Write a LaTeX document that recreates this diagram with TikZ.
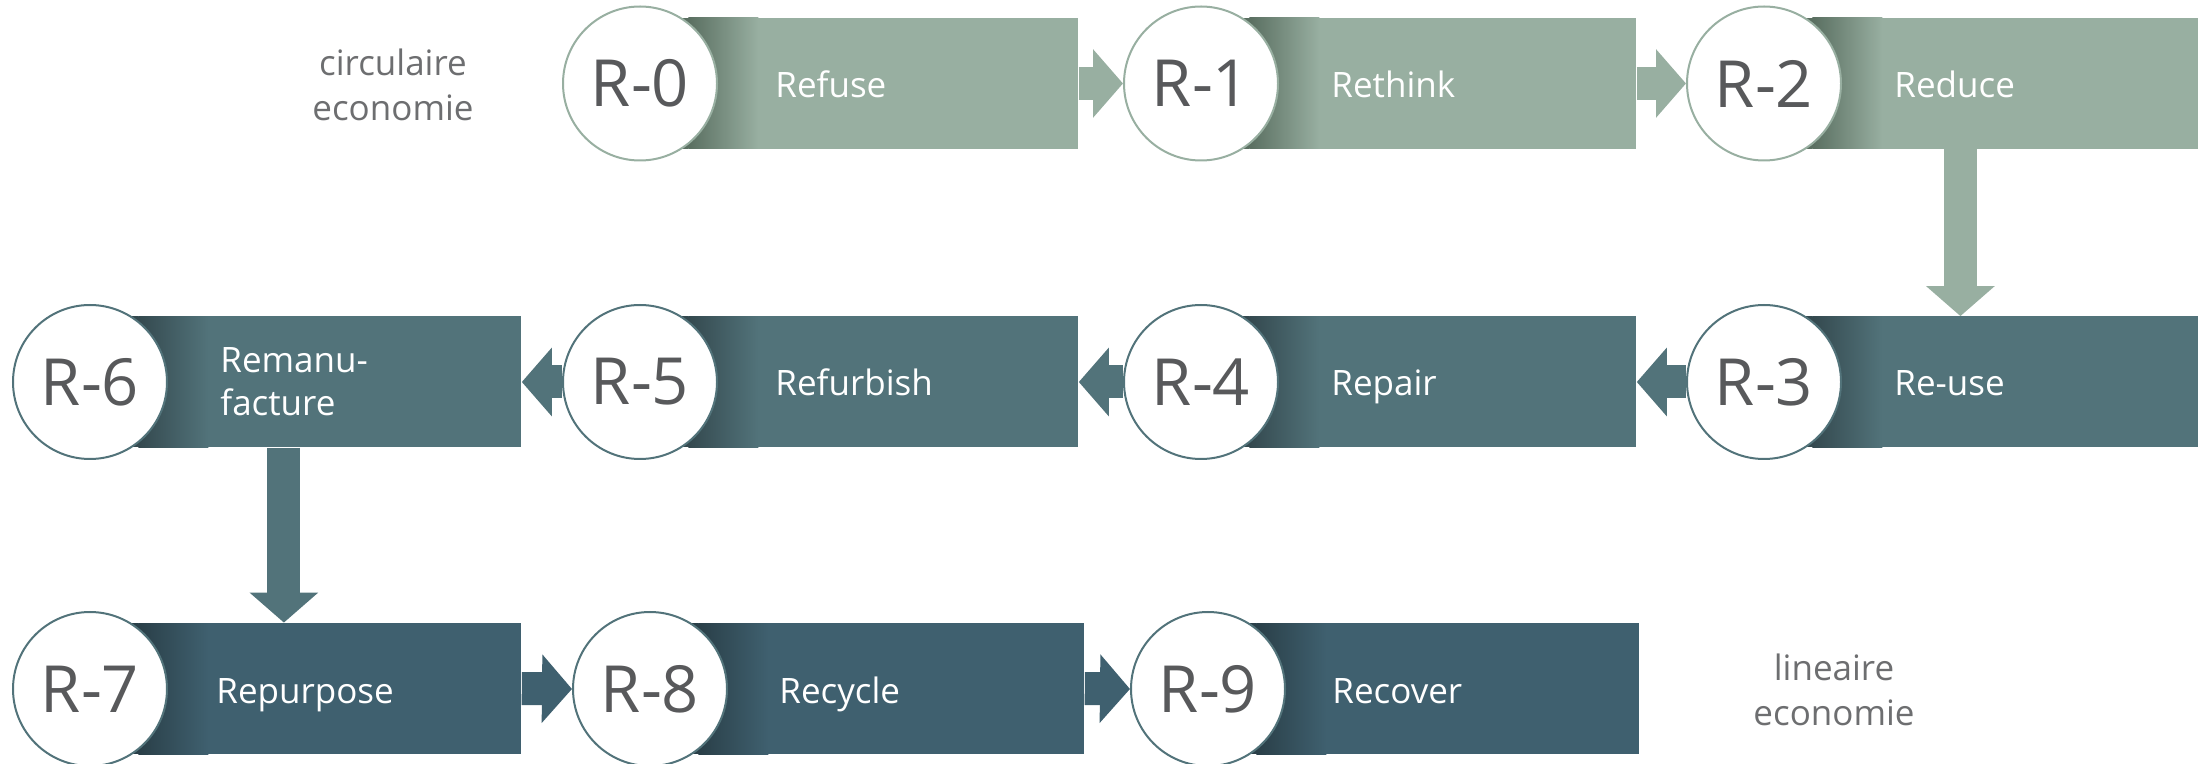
\documentclass[tikz,border=0pt]{standalone}
\usepackage{fontspec}
\setmainfont{Open Sans}
\usepackage{xcolor}
\usepackage{tikz}
\definecolor{sage}{HTML}{98AFA1}
\definecolor{sagedark}{HTML}{5A6F61}
\definecolor{slate}{HTML}{52737A}
\definecolor{slatedark}{HTML}{34494F}
\definecolor{deep}{HTML}{3F606F}
\definecolor{deepdark}{HTML}{2A3F48}
\definecolor{rtext}{HTML}{58595B}
\definecolor{sidetext}{HTML}{6D6E70}
\tikzset{>=latex,
    rbox/.style={fill=#1, anchor=west, inner sep=0pt, minimum height=65.5pt,
        path picture={
            \fill[#1dark] (path picture bounding box.south west) rectangle ([xshift=24pt]path picture bounding box.north west);
            \shade[left color=#1dark, right color=#1] ([xshift=24pt]path picture bounding box.south west) rectangle ([xshift=59pt]path picture bounding box.north west);}},
    rcircle/.style={circle, draw=#1, line width=1pt, fill=white, minimum size=77pt, inner sep=0pt,
        text=rtext, font=\fontsize{32.5}{33}\selectfont},
    rlabel/.style={anchor=base west, inner sep=0pt, text=white, align=left, font=\fontsize{17.5}{21.5}\selectfont},
    rarrow/.style={draw=#1, line width=16.5pt, -{Triangle[length=15pt, width=33.5pt]}},
    side/.style={text=sidetext, align=center, font=\fontsize{17.5}{22.5}\selectfont}}
\usetikzlibrary{arrows.meta}

\begin{document}
\begin{tikzpicture}[x=0.5pt, y=-0.5pt]
    \useasboundingbox (0,0) rectangle (2202,764);
    % boxes
    \node[rbox=sage, minimum width=219pt] (b0) at (640,83.5) {};
    \node[rbox=sage, minimum width=217.5pt] (b1) at (1201,83.5) {};
    \node[rbox=sage, minimum width=217pt] (b2) at (1764,83.5) {};
    \node[rbox=slate, minimum width=217pt] (b3) at (1764,382) {};
    \node[rbox=slate, minimum width=217.5pt] (b4) at (1201,382) {};
    \node[rbox=slate, minimum width=219pt] (b5) at (640,382) {};
    \node[rbox=slate, minimum width=215.5pt] (b6) at (90,382) {};
    \node[rbox=deep, minimum width=215.5pt] (b7) at (90,688.5) {};
    \node[rbox=deep, minimum width=217pt] (b8) at (650,688.5) {};
    \node[rbox=deep, minimum width=215.5pt] (b9) at (1208,688.5) {};
    % circles
    \node[rcircle=sage] (c0) at (640,83.5) {R-0};
    \node[rcircle=sage] (c1) at (1201,83.5) {R-1};
    \node[rcircle=sage] (c2) at (1764,83.5) {R-2};
    \node[rcircle=slate] (c3) at (1764,382) {R-3};
    \node[rcircle=slate] (c4) at (1201,382) {R-4};
    \node[rcircle=slate] (c5) at (640,382) {R-5};
    \node[rcircle=slate] (c6) at (90,382) {R-6};
    \node[rcircle=slate] (c7) at (90,689) {R-7};
    \node[rcircle=slate] (c8) at (650,689) {R-8};
    \node[rcircle=slate] (c9) at (1208,689) {R-9};
    % labels
    \node[rlabel] (l0) at (775,97.5) {Refuse};
    \node[rlabel] (l1) at (1331,97.5) {Rethink};
    \node[rlabel] (l2) at (1894,97.5) {Reduce};
    \node[rlabel] (l3) at (1894,396) {Re-use};
    \node[rlabel] (l4) at (1331,396) {Repair};
    \node[rlabel] (l5) at (775,396) {Refurbish};
    \node[rlabel, anchor=west] (l6) at (220,382) {Remanu-\\facture};
    \node[rlabel] (l7) at (216,703) {Repurpose};
    \node[rlabel] (l8) at (779,703) {Recycle};
    \node[rlabel] (l9) at (1332,703) {Recover};
    \node[side] (circ) at (393,85) {circulaire\\economie};
    \node[side] (lin) at (1834,690) {lineaire\\economie};
    % arrows
    \draw[rarrow=sage] (b0.east) -- (c1.west);
    \draw[rarrow=sage] (b1.east) -- (c2.west);
    \draw[rarrow=sage] ([xshift=-10.5pt]b2.south) -- ([xshift=-10.5pt]b3.north);
    \draw[rarrow=slate] (c3.west) -- (b4.east);
    \draw[rarrow=slate] (c4.west) -- (b5.east);
    \draw[rarrow=slate] (c5.west) -- (b6.east);
    \draw[rarrow=slate] ([xshift=-11pt]b6.south) -- ([xshift=-11pt]b7.north);
    \draw[rarrow=deep] (b7.east) -- (c8.west);
    \draw[rarrow=deep] (b8.east) -- (c9.west);
\end{tikzpicture}
\end{document}
